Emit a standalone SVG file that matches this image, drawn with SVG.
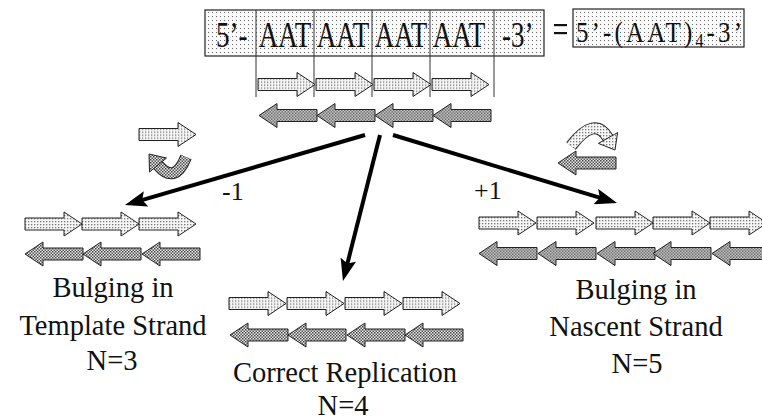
<svg xmlns="http://www.w3.org/2000/svg" width="762" height="420" viewBox="0 0 762 420">
<style>
text{font-family:'Liberation Serif','Times New Roman',Times,serif;fill:#111}
.lbl{font-size:28.5px;text-anchor:middle}
.fw{fill:url(#pl);stroke:#222;stroke-width:1}
.rv{fill:url(#pd);stroke:#222;stroke-width:1}
.box{fill:url(#pb);stroke:#222;stroke-width:1.2}
.div{stroke:#333;stroke-width:1}
.con{stroke:#000;stroke-width:4;fill:none;marker-end:url(#ah)}
</style>
<defs>
<pattern id="pl" width="3" height="3" patternUnits="userSpaceOnUse"><rect width="3" height="3" fill="#f6f6f6"/><rect width="1.3" height="1.3" fill="#777"/></pattern>
<pattern id="pd" width="3" height="3" patternUnits="userSpaceOnUse"><rect width="3" height="3" fill="#e8e8e8"/><rect width="1.5" height="1.5" fill="#444"/><rect x="1.5" y="1.5" width="1.5" height="1.5" fill="#555"/></pattern>
<pattern id="pb" width="4" height="4" patternUnits="userSpaceOnUse"><rect width="4" height="4" fill="#fafafa"/><rect width="1" height="1" fill="#666"/></pattern>
<marker id="ah" viewBox="0 0 22 16" refX="8" refY="8" markerWidth="22" markerHeight="16" markerUnits="userSpaceOnUse" orient="auto"><path d="M0,0 L22,8 L0,16 L4,8 Z" fill="#000"/></marker>
<path id="fwd" class="fw" d="M0,-6 H39 V-12 L57,0 L39,12 V6 H0 Z"/>
<path id="rev" class="rv" d="M0,0 L18,-12 V-6 H58 V6 H18 V12 Z"/>
</defs>

<g id="sequence" font-family="Liberation Serif, serif">
<rect class="box" x="205" y="10" width="339" height="46"/>
<line class="div" x1="256" y1="10" x2="256" y2="97"/>
<line class="div" x1="314" y1="10" x2="314" y2="97"/>
<line class="div" x1="372" y1="10" x2="372" y2="97"/>
<line class="div" x1="430" y1="10" x2="430" y2="97"/>
<line class="div" x1="494" y1="10" x2="494" y2="97"/>
<text font-size="27" transform="translate(216,47) scale(1,1.3)">5’-</text>
<text font-size="27" text-anchor="middle" transform="translate(285,47) scale(1,1.3)">AAT</text>
<text font-size="27" text-anchor="middle" transform="translate(343,47) scale(1,1.3)">AAT</text>
<text font-size="27" text-anchor="middle" transform="translate(401,47) scale(1,1.3)">AAT</text>
<text font-size="27" text-anchor="middle" transform="translate(459,47) scale(1,1.3)">AAT</text>
<text font-size="27" transform="translate(502,47) scale(1,1.3)">-3’</text>
<use href="#fwd" x="258" y="84.5"/>
<use href="#fwd" x="316" y="84.5"/>
<use href="#fwd" x="374" y="84.5"/>
<use href="#fwd" x="432" y="84.5"/>
<use href="#rev" x="259" y="115.5"/>
<use href="#rev" x="317" y="115.5"/>
<use href="#rev" x="375" y="115.5"/>
<use href="#rev" x="433" y="115.5"/>
</g>

<g id="equals">
<rect x="554" y="24" width="13" height="2.2" fill="#111"/>
<rect x="554" y="32" width="13" height="2.2" fill="#111"/>
</g>

<g id="compact">
<rect class="box" x="573" y="9" width="171" height="38"/>
<text font-size="25" textLength="166" lengthAdjust="spacing" transform="translate(576,42) scale(1,1.15)">5’-(AAT)<tspan font-size="16" dy="4">4</tspan><tspan dy="-4">-3’</tspan></text>
</g>

<g id="connectors">
<path class="con" d="M365,135 L138.4,201.1"/>
<path class="con" d="M380,135 L346.4,267.4"/>
<path class="con" d="M393,135 L603.6,198.9"/>
<text font-size="26" x="222" y="200">-1</text>
<text font-size="26" x="474" y="199">+1</text>
</g>

<g id="slip-template">
<use href="#fwd" x="139" y="134.5"/>
<path d="M186,157 Q175,185 158,165" fill="none" stroke="#222" stroke-width="12"/>
<path d="M186,157 Q175,185 158,165" fill="none" stroke="url(#pd)" stroke-width="10"/>
<path class="rv" d="M166.5,158 L149,154 L149.5,172 Z"/>
</g>

<g id="slip-nascent">
<path d="M571,146 Q595,115 608,138" fill="none" stroke="#222" stroke-width="12"/>
<path d="M571,146 Q595,115 608,138" fill="none" stroke="url(#pl)" stroke-width="10"/>
<path class="fw" d="M617.6,132.6 L615,150 L598.4,143.4 Z"/>
<use href="#rev" x="558" y="163"/>
</g>

<g id="bulge-template">
<use href="#fwd" x="25" y="224"/>
<use href="#fwd" x="82" y="224"/>
<use href="#fwd" x="139" y="224"/>
<use href="#rev" x="25" y="254"/>
<use href="#rev" x="83" y="254"/>
<use href="#rev" x="142" y="254"/>
<text class="lbl" x="113" y="297">Bulging in</text>
<text class="lbl" x="113" y="335">Template Strand</text>
<text class="lbl" x="112" y="370">N=3</text>
</g>

<g id="correct">
<use href="#fwd" x="229" y="303.5"/>
<use href="#fwd" x="287" y="303.5"/>
<use href="#fwd" x="345" y="303.5"/>
<use href="#fwd" x="403" y="303.5"/>
<use href="#rev" x="230" y="335"/>
<use href="#rev" x="288" y="335"/>
<use href="#rev" x="347" y="335"/>
<use href="#rev" x="405" y="335"/>
<text class="lbl" x="345" y="382">Correct Replication</text>
<text class="lbl" x="343" y="415">N=4</text>
</g>

<g id="bulge-nascent">
<use href="#fwd" x="479" y="223"/>
<use href="#fwd" x="537" y="223"/>
<use href="#fwd" x="596" y="223"/>
<use href="#fwd" x="653" y="223"/>
<use href="#fwd" x="710" y="223"/>
<use href="#rev" x="479" y="253.5"/>
<use href="#rev" x="538" y="253.5"/>
<use href="#rev" x="597" y="253.5"/>
<use href="#rev" x="653" y="253.5"/>
<use href="#rev" x="712" y="253.5"/>
<text class="lbl" x="636" y="299">Bulging in</text>
<text class="lbl" x="636" y="336">Nascent Strand</text>
<text class="lbl" x="637" y="373">N=5</text>
</g>
</svg>
